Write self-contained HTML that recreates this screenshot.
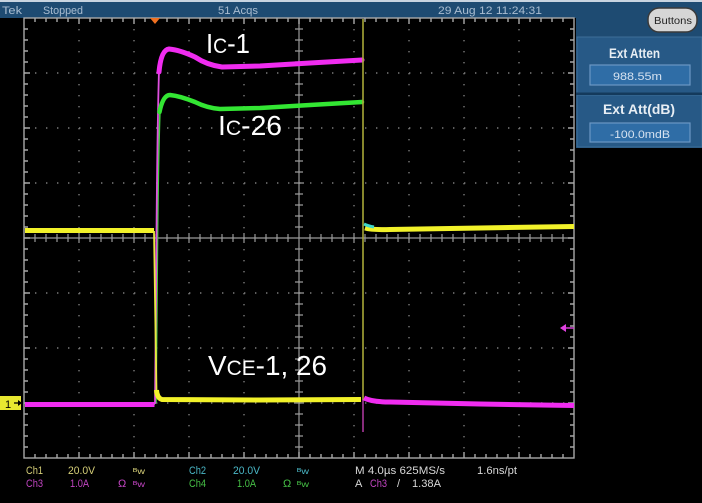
<!DOCTYPE html>
<html><head><meta charset="utf-8"><style>
html,body{margin:0;padding:0;background:#000;}
svg{display:block;}
text{font-family:"Liberation Sans",sans-serif;}
</style></head><body>
<svg width="702" height="503" viewBox="0 0 702 503" xmlns="http://www.w3.org/2000/svg">
<rect x="0" y="0" width="702" height="503" fill="#000"/>
<!-- top bar -->
<rect x="0" y="0" width="702" height="18" fill="#1e4b72"/>
<rect x="0" y="0" width="702" height="2" fill="#c8d4e0"/>
<g fill="#a9bdd1" font-size="11">
<text x="2" y="14" textLength="20" lengthAdjust="spacingAndGlyphs">Tek</text>
<text x="43" y="14" textLength="40" lengthAdjust="spacingAndGlyphs">Stopped</text>
<text x="218" y="14" textLength="40" lengthAdjust="spacingAndGlyphs">51 Acqs</text>
<text x="438" y="14" textLength="104" lengthAdjust="spacingAndGlyphs">29 Aug 12 11:24:31</text>
</g>
<!-- right panel -->
<rect x="576" y="18" width="126" height="130" fill="#1e4b72"/>
<rect x="648" y="8" width="49" height="24" rx="11" fill="#d6d6d6" stroke="#3a3a3a" stroke-width="1.5"/>
<text x="654" y="24" font-size="10" fill="#222" textLength="38" lengthAdjust="spacingAndGlyphs">Buttons</text>
<rect x="577" y="37" width="125" height="56" fill="#275986" stroke="#3d6e98" stroke-width="1"/>
<rect x="577" y="95" width="125" height="52" fill="#275986" stroke="#3d6e98" stroke-width="1"/>
<rect x="576" y="92.5" width="126" height="2.5" fill="#143a5c"/>
<text x="609" y="58" font-size="14" font-weight="bold" fill="#e8eef4" textLength="51" lengthAdjust="spacingAndGlyphs">Ext Atten</text>
<rect x="590" y="65" width="100" height="20" fill="#2f6da6" stroke="#6b98c4" stroke-width="1.2"/>
<text x="613" y="80" font-size="11" fill="#d6e2f0" textLength="49" lengthAdjust="spacingAndGlyphs">988.55m</text>
<text x="603" y="114" font-size="14" font-weight="bold" fill="#e8eef4" textLength="72" lengthAdjust="spacingAndGlyphs">Ext Att(dB)</text>
<rect x="590" y="123" width="100" height="19" fill="#2f6da6" stroke="#6b98c4" stroke-width="1.2"/>
<text x="610" y="138" font-size="11" fill="#d6e2f0" textLength="60" lengthAdjust="spacingAndGlyphs">-100.0mdB</text>

<!-- grid dotted -->
<g stroke="#7a7a7a" stroke-width="1.4" stroke-dasharray="1.4 9.6" fill="none">
<path d="M79,18V458M134,18V458M189,18V458M244,18V458M354,18V458M409,18V458M464,18V458M519,18V458"/>
<path d="M24,73H574M24,128H574M24,183H574M24,293H574M24,348H574M24,403H574"/>
</g>
<!-- center cross -->
<g stroke="#9a9a9a" stroke-width="1.2" fill="none">
<path d="M299,18V458M24,238H574"/>
<path d="M35,234V242M46,234V242M57,234V242M68,234V242M79,233V243M90,234V242M101,234V242M112,234V242M123,234V242M134,233V243M145,234V242M156,234V242M167,234V242M178,234V242M189,233V243M200,234V242M211,234V242M222,234V242M233,234V242M244,233V243M255,234V242M266,234V242M277,234V242M288,234V242M310,234V242M321,234V242M332,234V242M343,234V242M354,233V243M365,234V242M376,234V242M387,234V242M398,234V242M409,233V243M420,234V242M431,234V242M442,234V242M453,234V242M464,233V243M475,234V242M486,234V242M497,234V242M508,234V242M519,233V243M530,234V242M541,234V242M552,234V242M563,234V242"/>
<path d="M295,29H303M295,40H303M295,51H303M295,62H303M294,73H304M295,84H303M295,95H303M295,106H303M295,117H303M294,128H304M295,139H303M295,150H303M295,161H303M295,172H303M294,183H304M295,194H303M295,205H303M295,216H303M295,227H303M295,249H303M295,260H303M295,271H303M295,282H303M294,293H304M295,304H303M295,315H303M295,326H303M295,337H303M294,348H304M295,359H303M295,370H303M295,381H303M295,392H303M294,403H304M295,414H303M295,425H303M295,436H303M295,447H303"/>
</g>
<!-- border -->
<g stroke="#a8a8a8" stroke-width="1.4" fill="none">
<rect x="24" y="18" width="550" height="440"/>
<path d="M35,18v4M46,18v4M57,18v4M68,18v4M79,18v6M90,18v4M101,18v4M112,18v4M123,18v4M134,18v6M145,18v4M156,18v4M167,18v4M178,18v4M189,18v6M200,18v4M211,18v4M222,18v4M233,18v4M244,18v6M255,18v4M266,18v4M277,18v4M288,18v4M299,18v6M310,18v4M321,18v4M332,18v4M343,18v4M354,18v6M365,18v4M376,18v4M387,18v4M398,18v4M409,18v6M420,18v4M431,18v4M442,18v4M453,18v4M464,18v6M475,18v4M486,18v4M497,18v4M508,18v4M519,18v6M530,18v4M541,18v4M552,18v4M563,18v4"/>
<path d="M35,458v-4M46,458v-4M57,458v-4M68,458v-4M79,458v-6M90,458v-4M101,458v-4M112,458v-4M123,458v-4M134,458v-6M145,458v-4M156,458v-4M167,458v-4M178,458v-4M189,458v-6M200,458v-4M211,458v-4M222,458v-4M233,458v-4M244,458v-6M255,458v-4M266,458v-4M277,458v-4M288,458v-4M299,458v-6M310,458v-4M321,458v-4M332,458v-4M343,458v-4M354,458v-6M365,458v-4M376,458v-4M387,458v-4M398,458v-4M409,458v-6M420,458v-4M431,458v-4M442,458v-4M453,458v-4M464,458v-6M475,458v-4M486,458v-4M497,458v-4M508,458v-4M519,458v-6M530,458v-4M541,458v-4M552,458v-4M563,458v-4"/>
<path d="M24,29h4M24,40h4M24,51h4M24,62h4M24,73h6M24,84h4M24,95h4M24,106h4M24,117h4M24,128h6M24,139h4M24,150h4M24,161h4M24,172h4M24,183h6M24,194h4M24,205h4M24,216h4M24,227h4M24,238h6M24,249h4M24,260h4M24,271h4M24,282h4M24,293h6M24,304h4M24,315h4M24,326h4M24,337h4M24,348h6M24,359h4M24,370h4M24,381h4M24,392h4M24,403h6M24,414h4M24,425h4M24,436h4M24,447h4"/>
<path d="M574,29h-4M574,40h-4M574,51h-4M574,62h-4M574,73h-6M574,84h-4M574,95h-4M574,106h-4M574,117h-4M574,128h-6M574,139h-4M574,150h-4M574,161h-4M574,172h-4M574,183h-6M574,194h-4M574,205h-4M574,216h-4M574,227h-4M574,238h-6M574,249h-4M574,260h-4M574,271h-4M574,282h-4M574,293h-6M574,304h-4M574,315h-4M574,326h-4M574,337h-4M574,348h-6M574,359h-4M574,370h-4M574,381h-4M574,392h-4M574,403h-6M574,414h-4M574,425h-4M574,436h-4M574,447h-4"/>
</g>

<!-- trigger marker -->
<polygon points="150,18 160,18 155,24" fill="#f07020"/>

<!-- waveforms -->
<path d="M25,403.5H155" stroke="#30c030" stroke-width="3" fill="none"/>
<!-- thin rising edges -->
<path d="M156,403 L157,300 Q158,160 160,110" stroke="#40d040" stroke-width="1.6" fill="none"/>
<path d="M155,404 L156,300 Q157,140 159,70" stroke="#e050e0" stroke-width="1.8" fill="none"/>
<!-- green Ic-26 -->
<path d="M159.5,112 Q163,95 170,95 Q180,96 195,102 Q207,108 220,109 L260,108 L310,105 L362,102" stroke="#33e633" stroke-width="4.5" fill="none" stroke-linejoin="round" stroke-linecap="round"/>
<!-- magenta Ic-1 -->
<path d="M25,404.5 H154.5" stroke="#f02cf0" stroke-width="5" fill="none"/>
<path d="M159,72 Q161,50 169,49 Q180,50 195,57 Q207,65 222,67 L260,66 L310,63 L362,60" stroke="#f02cf0" stroke-width="5" fill="none" stroke-linejoin="round" stroke-linecap="round"/>
<!-- vertical thin line at turn-off -->
<path d="M363,19V400" stroke="#a8a838" stroke-width="1.6" fill="none"/>
<path d="M363,400V432" stroke="#c040b0" stroke-width="1.4" fill="none"/>
<path d="M364,398 Q372,402 390,402 L480,404 L574,405.5" stroke="#f02cf0" stroke-width="5" fill="none"/>
<!-- yellow Ch1 -->
<path d="M25,230.5 H154" stroke="#f2f22a" stroke-width="5" fill="none"/>
<path d="M154,231 L155.5,330 L156.5,392" stroke="#e8e840" stroke-width="1.8" fill="none"/>
<path d="M156.5,390 Q157,398 162,399.5 L260,400 L361,399.5" stroke="#f2f22a" stroke-width="5" fill="none" stroke-linejoin="round"/>
<path d="M365,228 Q372,230 390,229.5 L480,228 L574,226.5" stroke="#f2f22a" stroke-width="5" fill="none"/>
<path d="M364,224 Q368,226 374,227" stroke="#40d8c8" stroke-width="3" fill="none"/>

<!-- annotation labels -->
<g fill="#ffffff" font-size="28">
<text x="206" y="53" textLength="44" lengthAdjust="spacingAndGlyphs">I<tspan font-size="21">C</tspan>-1</text>
<text x="218" y="135" textLength="64" lengthAdjust="spacingAndGlyphs">I<tspan font-size="21">C</tspan>-26</text>
<text x="208" y="375" textLength="119" lengthAdjust="spacingAndGlyphs">V<tspan font-size="21">CE</tspan>-1, 26</text>
</g>

<!-- ch1 marker -->
<rect x="0" y="396" width="21" height="14" fill="#e8e830"/>
<text x="5" y="408" font-size="11" fill="#000">1</text>
<path d="M14,403H21" stroke="#000" stroke-width="1.3"/>
<polygon points="18,400 22,403 18,406" fill="#000"/>
<!-- right magenta marker -->
<path d="M565,328H574" stroke="#d040d0" stroke-width="1.5"/>
<polygon points="560,328 566,324 566,332" fill="#e040e0"/>

<!-- bottom readouts -->
<g font-size="11">
<g fill="#d6cf78">
<text x="26" y="474" textLength="17" lengthAdjust="spacingAndGlyphs">Ch1</text>
<text x="68" y="474" textLength="27" lengthAdjust="spacingAndGlyphs">20.0V</text>
<text x="133" y="474" font-size="8" textLength="12" lengthAdjust="spacingAndGlyphs">ᴮw</text>
</g>
<g fill="#4ab7c6">
<text x="189" y="474" textLength="17" lengthAdjust="spacingAndGlyphs">Ch2</text>
<text x="233" y="474" textLength="27" lengthAdjust="spacingAndGlyphs">20.0V</text>
<text x="297" y="474" font-size="8" textLength="12" lengthAdjust="spacingAndGlyphs">ᴮw</text>
</g>
<g fill="#c245c2">
<text x="26" y="487" textLength="17" lengthAdjust="spacingAndGlyphs">Ch3</text>
<text x="70" y="487" textLength="19" lengthAdjust="spacingAndGlyphs">1.0A</text>
<text x="118" y="487">Ω</text>
<text x="133" y="487" font-size="8" textLength="12" lengthAdjust="spacingAndGlyphs">ᴮw</text>
</g>
<g fill="#46c046">
<text x="189" y="487" textLength="17" lengthAdjust="spacingAndGlyphs">Ch4</text>
<text x="237" y="487" textLength="19" lengthAdjust="spacingAndGlyphs">1.0A</text>
<text x="283" y="487">Ω</text>
<text x="297" y="487" font-size="8" textLength="12" lengthAdjust="spacingAndGlyphs">ᴮw</text>
</g>
<g fill="#d8d8d8">
<text x="355" y="474" textLength="90" lengthAdjust="spacingAndGlyphs">M 4.0µs 625MS/s</text>
<text x="477" y="474" textLength="40" lengthAdjust="spacingAndGlyphs">1.6ns/pt</text>
<text x="355" y="487">A</text>
<text x="397" y="487">/</text>
<text x="412" y="487" textLength="29" lengthAdjust="spacingAndGlyphs">1.38A</text>
</g>
<text x="370" y="487" fill="#c245c2" textLength="17" lengthAdjust="spacingAndGlyphs">Ch3</text>
</g>
</svg>
</body></html>
